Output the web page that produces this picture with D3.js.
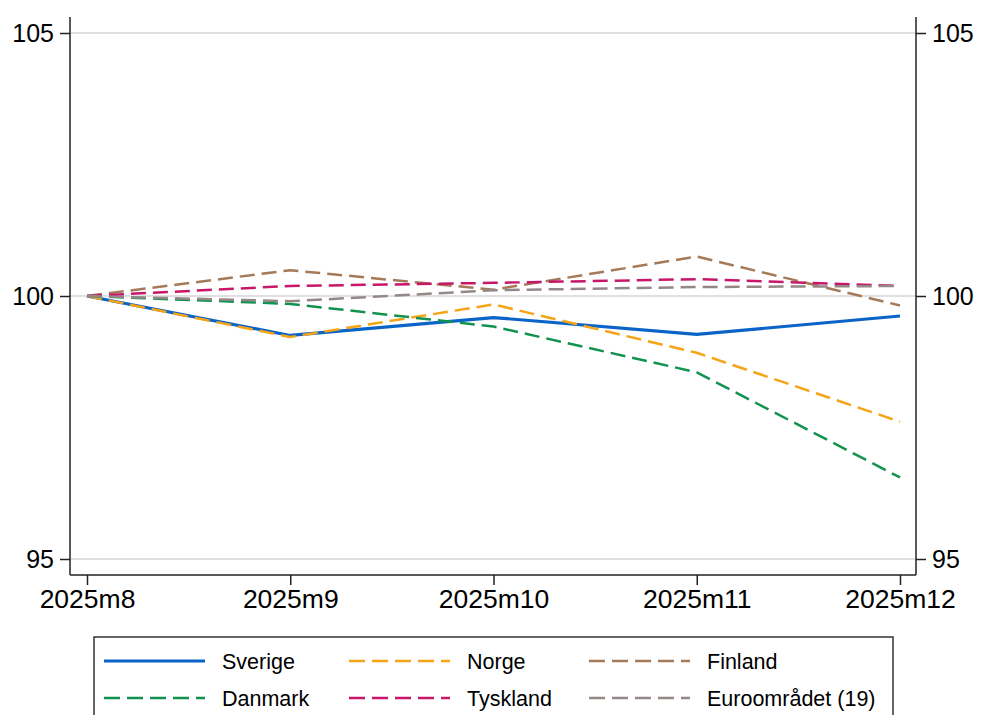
<!DOCTYPE html>
<html><head><meta charset="utf-8">
<script src="https://cdn.jsdelivr.net/npm/d3@7"></script>
<style>body{margin:0;background:#fff}svg{display:block}text{font-family:"Liberation Sans",Arial,sans-serif;fill:#000}</style>
</head><body><svg id="c" width="981" height="715"></svg>
<script>
const months = ["2025m8","2025m9","2025m10","2025m11","2025m12"];
const yTicks = [95,100,105];
const sverige  = [100, 99.25, 99.59, 99.27, 99.62];
const norge    = [100, 99.22, 99.84, 98.92, 97.61];
const finland  = [100, 100.49, 100.12, 100.75, 99.82];
const danmark  = [100, 99.85, 99.42, 98.55, 96.55];
const tyskland = [100, 100.19, 100.25, 100.32, 100.19];
const euro     = [100, 99.90, 100.11, 100.17, 100.19];
const seriesNames = ["Sverige","Norge","Finland","Danmark","Tyskland","Euroområdet (19)"];
const seriesData = [sverige, norge, finland, danmark, tyskland, euro];
const colors = ["#0a64c8","#f5a416","#a57a58","#12924e","#c8176a","#948887"];
const dashed = [false,true,true,true,true,true];

const svg = d3.select("#c");
const L=70, R=916, T=17, B=575;
const x = d3.scalePoint().domain(months).range([87,900]);
const y = d3.scaleLinear().domain([95,105]).range([559,33]);

// grid
svg.append("g").selectAll("line").data(yTicks).join("line")
  .attr("x1",L).attr("x2",R).attr("y1",d=>y(d)).attr("y2",d=>y(d))
  .attr("stroke","#d6d6d6").attr("stroke-width",1.5);

// axes
const fmt = d=>d;
const gl = svg.append("g").attr("transform",`translate(${L},0)`)
  .call(d3.axisLeft(y).tickValues(yTicks).tickSize(10).tickPadding(6).tickFormat(fmt));
const gr = svg.append("g").attr("transform",`translate(${R},0)`)
  .call(d3.axisRight(y).tickValues(yTicks).tickSize(10).tickPadding(6).tickFormat(fmt));
const gb = svg.append("g").attr("transform",`translate(0,${B})`)
  .call(d3.axisBottom(x).tickSize(10).tickPadding(4));
[gl,gr,gb].forEach(g=>{
  g.select(".domain").remove();
  g.selectAll(".tick line").attr("stroke","#222").attr("stroke-width",1.5);
  g.selectAll(".tick text").attr("font-size",25).attr("fill","#000");
});
gb.selectAll(".tick text").attr("font-size",26.5);
svg.append("line").attr("x1",L).attr("x2",L).attr("y1",T).attr("y2",B).attr("stroke","#222").attr("stroke-width",1.5);
svg.append("line").attr("x1",R).attr("x2",R).attr("y1",T).attr("y2",B).attr("stroke","#222").attr("stroke-width",1.5);
svg.append("line").attr("x1",L).attr("x2",R).attr("y1",B).attr("y2",B).attr("stroke","#222").attr("stroke-width",1.5);

// lines
const line = d3.line().x((d,i)=>x(months[i])).y(d=>y(d));
seriesData.forEach((s,k)=>{
  svg.append("path").datum(s).attr("d",line)
    .attr("fill","none").attr("stroke",colors[k])
    .attr("stroke-width",dashed[k]?2.5:3.2)
    .attr("stroke-dasharray",dashed[k]?"15,7":null)
    .attr("stroke-linejoin","round");
});

// legend
svg.append("rect").attr("x",94).attr("y",637).attr("width",799).attr("height",90)
  .attr("fill","#fff").attr("stroke","#333").attr("stroke-width",1.5);
const colX = [104,349,589];
const rowY = [661,698];
seriesNames.forEach((n,i)=>{
  const cx = colX[i%3], cy = rowY[Math.floor(i/3)];
  svg.append("line").attr("x1",cx).attr("x2",cx+101).attr("y1",cy).attr("y2",cy)
    .attr("stroke",colors[i]).attr("stroke-width",dashed[i]?2.5:3.2)
    .attr("stroke-dasharray",dashed[i]?"16,7":null);
  svg.append("text").attr("x",cx+118).attr("y",cy).attr("dy","0.35em")
    .attr("font-size",21.5).text(n);
});
</script></body></html>
